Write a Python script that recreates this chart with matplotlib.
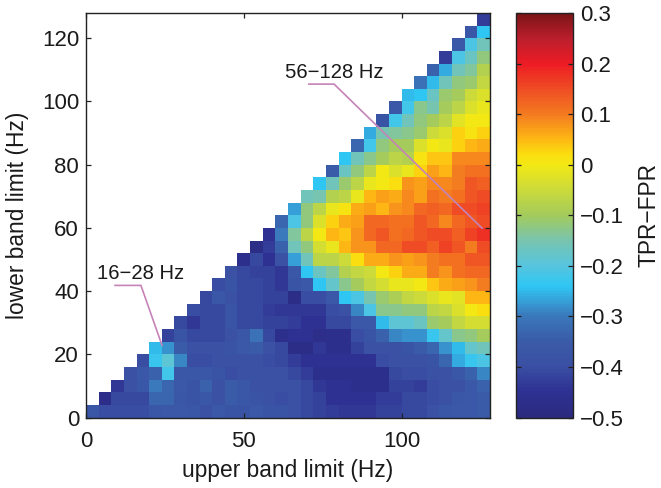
import numpy as np
import matplotlib
matplotlib.use("Agg")
import matplotlib.pyplot as plt
from matplotlib.colors import LinearSegmentedColormap

plt.rcParams['font.family'] = ['Liberation Sans', 'DejaVu Sans']

band_edges = list(range(0, 129, 4))
x_ticks = [0, 50, 100]
y_ticks = [0, 20, 40, 60, 80, 100, 120]
cbar_ticks = [-0.5, -0.4, -0.3, -0.2, -0.1, 0, 0.1, 0.2, 0.3]
cbar_labels = ['\u22120.5', '\u22120.4', '\u22120.3', '\u22120.2', '\u22120.1', '0', '0.1', '0.2', '0.3']

# each row begins at the column equal to its row number
row_00 = [-.37,-.40,-.40,-.40,-.40,-.37,-.36,-.36,-.37,-.39,-.36,-.38,-.38,-.36,-.38,-.38,-.39,-.41,-.42,-.43,-.44,-.44,-.44,-.42,-.42,-.41,-.41,-.39,-.37,-.36,-.36,-.35]
row_01 = [-.47,-.41,-.41,-.41,-.33,-.33,-.37,-.38,-.37,-.39,-.35,-.37,-.38,-.39,-.40,-.39,-.41,-.42,-.45,-.45,-.45,-.45,-.43,-.43,-.41,-.41,-.40,-.39,-.37,-.36,-.35]
row_02 = [-.44,-.39,-.37,-.30,-.33,-.36,-.38,-.34,-.39,-.35,-.37,-.39,-.39,-.39,-.39,-.41,-.44,-.45,-.45,-.46,-.46,-.46,-.42,-.42,-.43,-.40,-.39,-.39,-.36,-.34]
row_03 = [-.39,-.36,-.34,-.22,-.37,-.37,-.37,-.38,-.40,-.39,-.39,-.39,-.39,-.41,-.43,-.46,-.46,-.46,-.46,-.46,-.46,-.41,-.40,-.40,-.39,-.39,-.37,-.34,-.29]
row_04 = [-.40,-.23,-.19,-.29,-.40,-.40,-.39,-.39,-.39,-.39,-.40,-.41,-.43,-.45,-.45,-.45,-.45,-.45,-.45,-.40,-.39,-.39,-.39,-.38,-.33,-.26,-.23,-.21]
row_05 = [-.25,-.28,-.35,-.39,-.39,-.39,-.38,-.36,-.35,-.39,-.41,-.48,-.48,-.44,-.46,-.46,-.42,-.39,-.39,-.39,-.38,-.35,-.33,-.28,-.25,-.18,-.16]
row_06 = [-.42,-.38,-.41,-.41,-.41,-.39,-.37,-.31,-.41,-.46,-.45,-.45,-.47,-.46,-.46,-.40,-.38,-.34,-.29,-.28,-.28,-.23,-.18,-.13,-.12,-.10]
row_07 = [-.41,-.44,-.41,-.41,-.38,-.41,-.41,-.42,-.42,-.43,-.45,-.45,-.41,-.41,-.36,-.36,-.25,-.19,-.19,-.17,-.11,-.10,-.06,-.04,-.04]
row_08 = [-.40,-.41,-.41,-.38,-.41,-.41,-.43,-.44,-.44,-.44,-.44,-.40,-.39,-.29,-.21,-.13,-.13,-.12,-.12,-.07,-.06,-.03,.00,.02]
row_09 = [-.41,-.37,-.39,-.41,-.41,-.42,-.42,-.48,-.40,-.40,-.36,-.24,-.21,-.15,-.11,-.09,-.06,-.05,-.03,-.01,-.02,.05,.05]
row_10 = [-.40,-.38,-.41,-.41,-.42,-.44,-.38,-.36,-.24,-.18,-.13,-.10,-.06,-.04,-.01,-.01,.00,.04,.06,.07,.08,.10]
row_11 = [-.39,-.41,-.42,-.42,-.44,-.37,-.24,-.17,-.14,-.08,-.06,-.05,.00,.03,.06,.06,.10,.08,.11,.12,.12]
row_12 = [-.46,-.41,-.45,-.39,-.27,-.16,-.07,-.07,-.05,.02,.06,.06,.08,.07,.08,.10,.11,.11,.14,.14]
row_13 = [-.48,-.43,-.34,-.16,-.12,-.04,-.01,.05,.08,.08,.12,.12,.15,.15,.13,.16,.14,.10,.15]
row_14 = [-.45,-.30,-.14,-.07,.00,.05,.04,.08,.12,.14,.11,.12,.14,.15,.15,.13,.16,.18]
row_15 = [-.33,-.21,-.12,-.03,.03,.06,.07,.12,.12,.11,.11,.14,.12,.09,.12,.14,.15]
row_16 = [-.27,-.12,-.07,-.01,.01,.06,.07,.05,.08,.09,.12,.13,.12,.15,.15,.16]
row_17 = [-.16,-.15,-.08,-.07,-.01,.05,.07,.06,.09,.07,.11,.10,.11,.14,.15]
row_18 = [-.24,-.16,-.11,-.07,-.01,.00,.02,.08,.07,.09,.09,.10,.14,.13]
row_19 = [-.35,-.17,-.12,-.07,.00,-.03,-.01,.03,.07,.05,.10,.11,.11]
row_20 = [-.24,-.16,-.13,-.10,-.07,-.08,.01,.04,.04,.09,.09,.09]
row_21 = [-.33,-.22,-.12,-.10,-.10,-.03,.00,-.01,.03,.05,.06]
row_22 = [-.26,-.15,-.14,-.13,-.11,-.05,-.03,.03,.01,.03]
row_23 = [-.38,-.22,-.16,-.12,-.10,-.07,-.02,.00,.00]
row_24 = [-.36,-.22,-.13,-.15,-.10,-.07,-.03,-.01]
row_25 = [-.25,-.24,-.17,-.11,-.10,-.05,-.03]
row_26 = [-.31,-.25,-.16,-.12,-.11,-.06]
row_27 = [-.34,-.26,-.16,-.14,-.08]
row_28 = [-.43,-.21,-.17,-.12]
row_29 = [-.36,-.21,-.16]
row_30 = [-.37,-.24]
row_31 = [-.43]
rows = [row_00,row_01,row_02,row_03,row_04,row_05,row_06,row_07,row_08,row_09,row_10,
        row_11,row_12,row_13,row_14,row_15,row_16,row_17,row_18,row_19,row_20,row_21,
        row_22,row_23,row_24,row_25,row_26,row_27,row_28,row_29,row_30,row_31]

labels = ['56\u2212128 Hz', '16\u221228 Hz']
leader_x = [[70.6, 78.6, 125.5], [9.2, 17.4, 24.1]]
leader_y = [[105.5, 105.5, 59.9], [41.8, 41.8, 22.8]]

vmin, vmax = -0.5, 0.3
stops = [(-.5,'#2b2a7f'),(-.45,'#2e3192'),(-.4,'#3a4fa3'),(-.35,'#3a5ba8'),(-.3,'#3a78bb'),
         (-.27,'#36a0d8'),(-.24,'#2fc6f3'),(-.2,'#57c5de'),(-.15,'#78c4ae'),(-.1,'#a3cb5c'),
         (-.05,'#cbda3a'),(0,'#f2e915'),(.02,'#fbdf0f'),(.05,'#fdb913'),(.1,'#f47b20'),
         (.15,'#ef4d24'),(.2,'#ed1c24'),(.25,'#bc1e2d'),(.3,'#7b1416')]
cmap = LinearSegmentedColormap.from_list('tpr', [((v-vmin)/(vmax-vmin), c) for v, c in stops], N=256)

n = len(rows)
grid = np.full((n, n), np.nan)
for r, vals in enumerate(rows):
    grid[r, r:r+len(vals)] = vals

W, H = 661, 488
fig = plt.figure(figsize=(W/100, H/100), dpi=100)
ax = fig.add_axes([86/W, 1-417.5/H, 404/W, 404.5/H])
mesh = ax.pcolormesh(band_edges, band_edges, np.ma.masked_invalid(grid), cmap=cmap, vmin=vmin, vmax=vmax)
ax.set_xlim(0, 128); ax.set_ylim(0, 128)
ax.set_xticks(x_ticks); ax.set_yticks(y_ticks)
ax.tick_params(direction='in', length=3.5, width=0.9, labelsize=16, top=True, right=True, color='#222222', labelcolor='#1a1a1a', pad=5)
ax.tick_params(axis='x', pad=10)
ax.set_xlabel('upper band limit (Hz)', fontsize=16.4, color='#1a1a1a', labelpad=5)
ax.set_ylabel('lower band limit (Hz)', fontsize=16.4, color='#1a1a1a', labelpad=9)
for s in ax.spines.values():
    s.set_linewidth(1.0); s.set_color('#222222')

for lab, lx, ly in zip(labels, leader_x, leader_y):
    ax.plot(lx, ly, color='#c583b8', lw=1.2, solid_joinstyle='miter')
    ax.text(lx[1], ly[0]+0.7, lab, ha='center', va='bottom', fontsize=14.6, color='#1a1a1a')

cax = fig.add_axes([516/W, 1-417.5/H, 57/W, 404.5/H])
cb = fig.colorbar(mesh, cax=cax)
cb.set_ticks(cbar_ticks); cb.set_ticklabels(cbar_labels)
cax.tick_params(direction='in', length=3.5, width=0.9, labelsize=16, left=True, right=True, color='#222222', labelcolor='#1a1a1a', pad=5)
cb.outline.set_linewidth(1.0); cb.outline.set_edgecolor('#222222')
cb.set_label('TPR\u2212FPR', fontsize=16.4, color='#1a1a1a', labelpad=10)
fig.savefig('out.png', dpi=100)
